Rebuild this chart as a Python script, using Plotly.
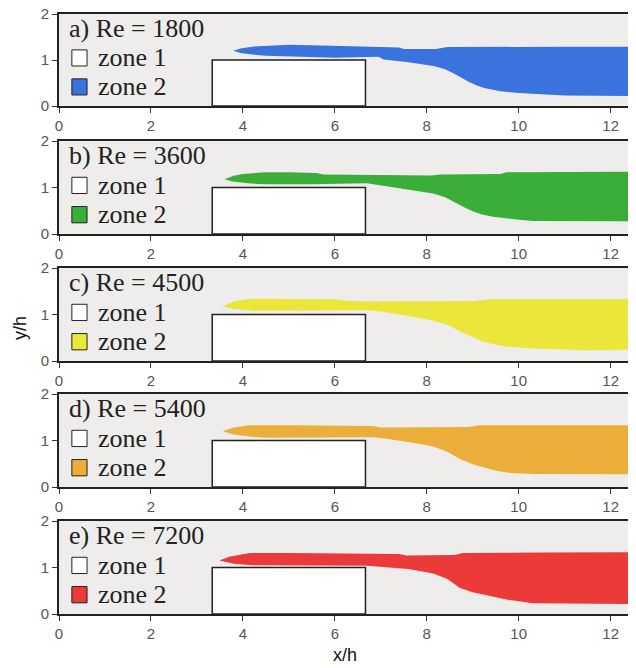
import plotly.graph_objects as go

W, H = 636, 668
OFF = 8  # page body margin offset

panel_labels = ["a) Re = 1800", "b) Re = 3600", "c) Re = 4500", "d) Re = 5400", "e) Re = 7200"]
zone_colors = ["#3B73DE", "#3BAE3A", "#EAE63A", "#ECAE3A", "#EC3A3A"]

# zone 2 boundaries (x/h, y/h) per panel
a_upper_x = [3.79, 3.95, 4.2, 4.5, 5.0, 5.5, 6.0, 7.0, 7.4, 7.5, 8.2, 8.45, 9.5, 11.0, 12.8]
a_upper_y = [1.20, 1.25, 1.29, 1.31, 1.33, 1.32, 1.31, 1.29, 1.27, 1.24, 1.24, 1.28, 1.29, 1.29, 1.29]
a_lower_x = [3.79, 3.95, 4.2, 4.5, 5.0, 6.0, 6.95, 7.06, 7.6, 8.15, 8.4, 8.6, 8.9, 9.1, 9.25, 9.6, 10.0, 11.0, 12.8]
a_lower_y = [1.20, 1.15, 1.12, 1.09, 1.07, 1.05, 1.07, 1.01, 0.95, 0.87, 0.80, 0.70, 0.53, 0.44, 0.39, 0.32, 0.28, 0.23, 0.21]

b_upper_x = [3.60, 3.8, 4.0, 4.5, 5.0, 5.6, 5.75, 7.0, 8.1, 8.3, 9.6, 9.73, 12.8]
b_upper_y = [1.18, 1.25, 1.29, 1.33, 1.33, 1.31, 1.28, 1.27, 1.26, 1.28, 1.29, 1.33, 1.34]
b_lower_x = [3.60, 3.78, 4.1, 4.5, 5.5, 6.7, 7.05, 7.6, 8.14, 8.4, 8.6, 8.8, 9.0, 9.2, 9.44, 9.95, 10.3, 12.8]
b_lower_y = [1.18, 1.13, 1.09, 1.07, 1.07, 1.09, 1.04, 0.96, 0.87, 0.79, 0.69, 0.58, 0.49, 0.42, 0.37, 0.31, 0.28, 0.27]

c_upper_x = [3.56, 3.8, 4.15, 5.0, 5.96, 6.2, 6.7, 9.0, 9.37, 12.8]
c_upper_y = [1.18, 1.28, 1.34, 1.34, 1.33, 1.30, 1.28, 1.29, 1.33, 1.33]
c_lower_x = [3.56, 3.8, 4.2, 4.5, 6.7, 7.05, 7.6, 8.14, 8.45, 8.72, 9.0, 9.22, 9.5, 9.73, 10.31, 11.4, 12.8]
c_lower_y = [1.18, 1.12, 1.08, 1.07, 1.09, 1.06, 0.97, 0.87, 0.78, 0.64, 0.51, 0.42, 0.35, 0.31, 0.27, 0.23, 0.25]

d_upper_x = [3.56, 3.8, 4.15, 5.0, 6.83, 7.0, 8.9, 9.15, 12.8]
d_upper_y = [1.20, 1.28, 1.33, 1.33, 1.31, 1.28, 1.29, 1.33, 1.33]
d_lower_x = [3.56, 3.8, 4.2, 4.5, 6.83, 7.12, 7.6, 8.14, 8.45, 8.72, 9.0, 9.22, 9.5, 9.73, 10.31, 12.8]
d_lower_y = [1.20, 1.13, 1.08, 1.06, 1.07, 1.04, 0.97, 0.87, 0.76, 0.60, 0.49, 0.42, 0.35, 0.31, 0.28, 0.27]

e_upper_x = [3.49, 3.7, 4.15, 5.0, 7.4, 7.56, 8.6, 8.79, 10.5, 12.8]
e_upper_y = [1.15, 1.23, 1.31, 1.31, 1.29, 1.26, 1.27, 1.31, 1.32, 1.33]
e_lower_x = [3.49, 3.8, 4.2, 4.5, 6.7, 7.6, 8.14, 8.45, 8.72, 9.0, 9.22, 9.5, 9.73, 10.31, 12.8]
e_lower_y = [1.15, 1.08, 1.05, 1.04, 1.04, 0.97, 0.87, 0.75, 0.56, 0.47, 0.42, 0.36, 0.31, 0.23, 0.21]

uppers = [(a_upper_x, a_upper_y), (b_upper_x, b_upper_y), (c_upper_x, c_upper_y),
          (d_upper_x, d_upper_y), (e_upper_x, e_upper_y)]
lowers = [(a_lower_x, a_lower_y), (b_lower_x, b_lower_y), (c_lower_x, c_lower_y),
          (d_lower_x, d_lower_y), (e_lower_x, e_lower_y)]

block_x = [10 / 3, 20 / 3]
block_y = [0, 1]
x_ticks = [0, 2, 4, 6, 8, 10, 12]
y_ticks = [0, 1, 2]

# pixel layout of panels (screen pixels, shifted by page offset below)
panel_top_px = [14, 141, 268, 394, 521]
panel_bot_px = [106, 234, 361, 487, 614]
x_left_px = 59 - OFF
px_per_unit = 45.97
x_max = (W - x_left_px) / px_per_unit

fig = go.Figure()
layout = dict(width=W, height=H, margin=dict(l=0, r=0, t=0, b=0, autoexpand=False),
              paper_bgcolor="white", showlegend=False)
shapes = []
annotations = []

tick_font = dict(family="Liberation Sans, Arial, sans-serif", size=15, color="#555555")
serif = "Liberation Serif, Times New Roman, serif"

for i in range(5):
    n = "" if i == 0 else str(i + 1)
    xa, ya = "x" + n, "y" + n
    ux, uy = uppers[i]
    lx, ly = lowers[i]
    fig.add_trace(go.Scatter(
        x=list(ux) + list(lx)[::-1], y=list(uy) + list(ly)[::-1],
        fill="toself", fillcolor=zone_colors[i], mode="lines",
        line=dict(width=0, color=zone_colors[i]),
        xaxis=xa, yaxis=ya, hoverinfo="skip"))
    layout["xaxis" + n] = dict(
        domain=[x_left_px / W, 1], range=[0, x_max], anchor=ya, automargin=False,
        tickvals=x_ticks, ticks="outside", ticklen=5, tickwidth=1, tickcolor="#333",
        showline=True, linecolor="#222", linewidth=2, mirror=True,
        showgrid=False, zeroline=False, tickfont=tick_font)
    top = panel_top_px[i] - OFF
    bot = panel_bot_px[i] - OFF
    layout["yaxis" + n] = dict(
        domain=[1 - bot / H, 1 - top / H], range=[0, 2],
        anchor=xa, automargin=False, tickvals=y_ticks, ticks="outside", ticklen=5,
        tickwidth=1, tickcolor="#333", showline=True, linecolor="#222", linewidth=2,
        showgrid=False, zeroline=False, tickfont=tick_font, ticklabelstandoff=0,
        ticklabeloverflow="allow")
    # block
    shapes.append(dict(type="rect", xref=xa, yref=ya, x0=block_x[0], x1=block_x[1],
                       y0=block_y[0], y1=block_y[1], fillcolor="white",
                       line=dict(color="#222", width=1.5), layer="above"))
    # legend squares
    shapes.append(dict(type="rect", xref=xa, yref=ya, x0=0.28, x1=0.61, y0=0.87, y1=1.22,
                       fillcolor="white", line=dict(color="#222", width=1)))
    shapes.append(dict(type="rect", xref=xa, yref=ya, x0=0.28, x1=0.61, y0=0.24, y1=0.59,
                       fillcolor=zone_colors[i], line=dict(color="#222", width=1)))
    annotations.append(dict(xref=xa, yref=ya, x=0.18, y=1.68, text=panel_labels[i],
                            showarrow=False, xanchor="left", yanchor="middle",
                            font=dict(family=serif, size=26, color="#222")))
    annotations.append(dict(xref=xa, yref=ya, x=0.8, y=1.05, text="zone 1",
                            showarrow=False, xanchor="left", yanchor="middle",
                            font=dict(family=serif, size=26, color="#222")))
    annotations.append(dict(xref=xa, yref=ya, x=0.8, y=0.42, text="zone 2",
                            showarrow=False, xanchor="left", yanchor="middle",
                            font=dict(family=serif, size=26, color="#222")))

annotations.append(dict(xref="paper", yref="paper", x=(20 - OFF) / W, y=1 - (328 - OFF) / H,
                        xanchor="center", yanchor="middle",
                        text="y/h", textangle=-90, showarrow=False,
                        font=dict(family="Liberation Sans, Arial, sans-serif", size=18, color="#111")))
annotations.append(dict(xref="paper", yref="paper", x=(345 - OFF) / W, y=1 - (655 - OFF) / H,
                        xanchor="center", yanchor="middle",
                        text="x/h", showarrow=False,
                        font=dict(family="Liberation Sans, Arial, sans-serif", size=18, color="#111")))

layout["shapes"] = shapes
layout["annotations"] = annotations
layout["plot_bgcolor"] = "#EEEDEB"
fig.update_layout(**layout)
fig.write_html("out.html")
